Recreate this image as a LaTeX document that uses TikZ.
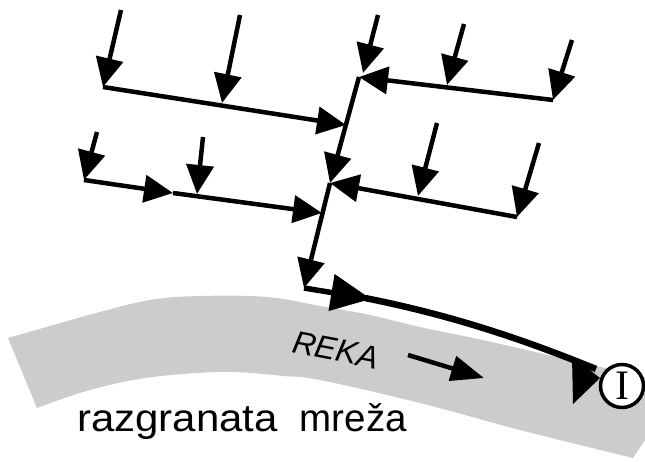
\documentclass[tikz,border=0pt]{standalone}
\usepackage{fontspec}
\setmainfont{Liberation Sans}
\newfontfamily\ifont{Liberation Serif}
\usetikzlibrary{arrows.meta,calc}
\definecolor{rivergray}{RGB}{204,204,204}
\begin{document}
\begin{tikzpicture}[x=1pt,y=-1pt,
  flow/.style={line width=4.5pt,-{Triangle[length=29pt,width=27pt]}},
  bigflow/.style={line width=5.5pt,-{Triangle[length=40pt,width=36pt]}},
  riverline/.style={line width=6.5pt},
  tipshape/.style={fill=black},
  gaugering/.style={draw,line width=3.5pt,fill=white},
  gauge/.style={inner sep=0pt,font=\ifont\fontsize{42}{42}\selectfont},
  lbl/.style={inner sep=0pt}
]
\useasboundingbox (0,0) rectangle (645,462);
% river band
\fill[rivergray] plot[smooth,tension=0.6] coordinates {(8,338) (50,326) (100,312) (150,300) (200,296) (267,297) (320,306) (370,315) (420,327) (487,341) (570,360) (648,378)}
  -- (645,440) -- (633,458)
  -- plot[smooth,tension=0.6] coordinates {(633,458) (520,430) (420,403) (320,380) (283,376) (233,372) (183,374) (133,380) (83,392) (37,408)}
  -- cycle;
% coordinates
\coordinate (a1s) at (121,10);  \coordinate (L1s) at (103,87);
\coordinate (a2s) at (240,15);  \coordinate (a2e) at (222,103);
\coordinate (J1) at (346,125);
\coordinate (T1) at (359,77);
\coordinate (T2) at (330,183);
\coordinate (T3) at (304,288);
\coordinate (a3s) at (378,15);  \coordinate (a3e) at (363,73);
\coordinate (a4s) at (464,24);  \coordinate (a4e) at (447,85);
\coordinate (a5s) at (572,40);  \coordinate (R1) at (553,100);
\coordinate (a6s) at (437,123); \coordinate (a6e) at (418,196);
\coordinate (a7s) at (539,143); \coordinate (R2) at (517,217);
\coordinate (a8s) at (97,132);  \coordinate (P1) at (84,180);
\coordinate (P2) at (173,193);
\coordinate (a9s) at (203,137); \coordinate (a9e) at (197,194);
\coordinate (J2) at (322,213);
\coordinate (R0) at (371,299);
\coordinate (Rend) at (596,369);
\coordinate (Ic) at (622,386);
% tributaries
\draw[flow] (a1s) -- (L1s);
\draw[flow] (a2s) -- (a2e);
\draw[flow] (L1s) -- (J1);
\draw[flow] (a3s) -- (a3e);
\draw[flow] (a4s) -- (a4e);
\draw[flow] (a5s) -- (R1);
\draw[flow] (R1) -- (T1);
\draw[flow] (a6s) -- (a6e);
\draw[flow] (a7s) -- (R2);
\draw[flow] (R2) -- (T2);
\draw[flow] (a8s) -- (P1);
\draw[flow] (P1) -- (P2);
\draw[flow] (a9s) -- (a9e);
\draw[flow] (P2) -- (J2);
\draw[flow] (T1) -- (T2);
\draw[flow] (T2) -- (T3);
% river
\draw[riverline] ($(R0)+(-6,-1)$) .. controls (450,315) and (520,338) .. (Rend);
\draw[bigflow] (T3) -- (R0);
\draw[gaugering] (Ic) circle[radius=21.5pt];
\node[gauge] (I) at (Ic) {I};
\fill[tipshape] (572,356) -- (573,404) -- (600,378) -- cycle;
% labels
\node[lbl,rotate=-11,font=\itshape\fontsize{32}{32}\selectfont] (reka) at (336,350) {REKA};
\coordinate (fs) at (408,355); \coordinate (fe) at (484,378);
\draw[line width=4.5pt,-{Triangle[length=33pt,width=25pt]}] (fs) -- (fe);
\node[lbl,anchor=base west,font=\fontsize{38.5}{40}\selectfont] (title) at (77,431) {\scalebox{1.09}[1]{razgranata}\hspace{22pt}mreža};
\end{tikzpicture}
\end{document}
